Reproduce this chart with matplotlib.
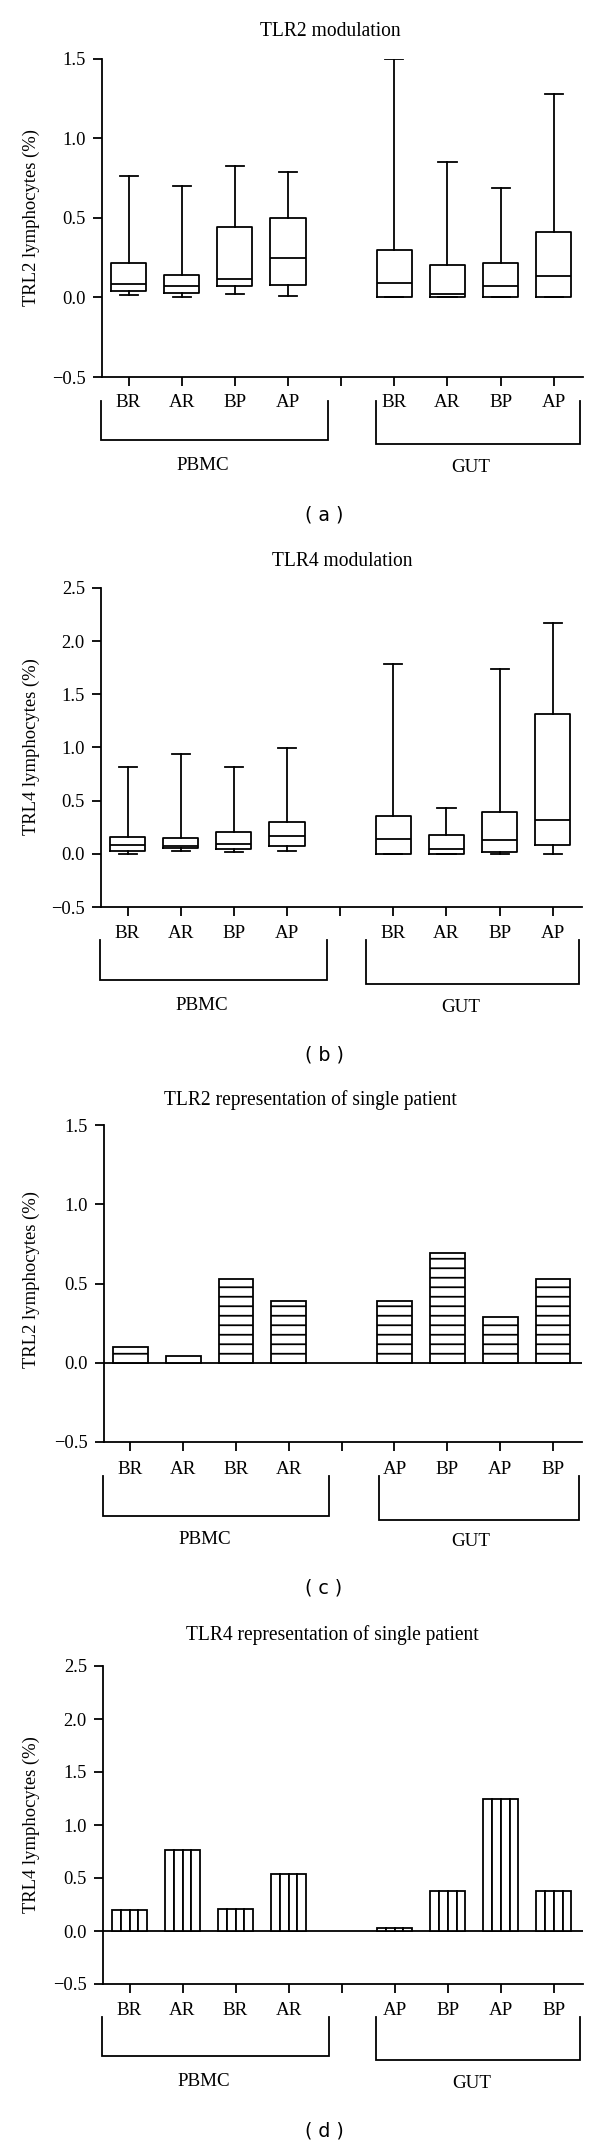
import matplotlib
matplotlib.use("Agg")
import matplotlib.pyplot as plt
from matplotlib.ticker import FuncFormatter, MultipleLocator
from matplotlib.transforms import blended_transform_factory

# ---------------- data ----------------
group_names = ["PBMC", "GUT"]
mod_labels = ["BR", "AR", "BP", "AP", "BR", "AR", "BP", "AP"]

tlr2_whislo = [0.013, 0.000, 0.022, 0.011, 0.000, 0.000, 0.000, 0.000]
tlr2_q1     = [0.043, 0.030, 0.069, 0.076, 0.000, 0.000, 0.000, 0.000]
tlr2_med    = [0.082, 0.069, 0.115, 0.249, 0.093, 0.022, 0.069, 0.136]
tlr2_q3     = [0.216, 0.141, 0.439, 0.500, 0.299, 0.201, 0.216, 0.411]
tlr2_whishi = [0.764, 0.700, 0.827, 0.786, 1.498, 0.851, 0.686, 1.277]

tlr4_whislo = [0.000, 0.023, 0.016, 0.029, 0.000, 0.000, 0.000, 0.000]
tlr4_q1     = [0.026, 0.052, 0.042, 0.071, 0.000, 0.000, 0.019, 0.081]
tlr4_med    = [0.081, 0.075, 0.091, 0.166, 0.140, 0.049, 0.130, 0.321]
tlr4_q3     = [0.162, 0.153, 0.208, 0.302, 0.354, 0.179, 0.393, 1.315]
tlr4_whishi = [0.821, 0.935, 0.812, 0.994, 1.782, 0.435, 1.734, 2.175]

single_labels = ["BR", "AR", "BR", "AR", "AP", "BP", "AP", "BP"]
tlr2_single = [0.102, 0.043, 0.528, 0.387, 0.387, 0.691, 0.289, 0.528]
tlr4_single = [0.197, 0.765, 0.206, 0.539, 0.029, 0.377, 1.248, 0.377]

# ---------------- layout helpers ----------------
DPI = 57
W, H = 600, 2146
PT = 72.0 / DPI  # points per pixel

plt.rcParams["hatch.linewidth"] = 1.8 * PT
plt.rcParams["font.family"] = ["Liberation Serif", "DejaVu Serif"]

fig = plt.figure(figsize=(W / DPI, H / DPI), dpi=DPI)
fig.patch.set_facecolor("white")

LW = 1.8 * PT
FS = 19 * PT
# positions: 4 per group, one empty slot between groups
positions = [i + 1 for i in range(4)] + [i + 6 for i in range(4)]


def rect(left, top, right, bottom):
    return [left / W, 1 - bottom / H, (right - left) / W, (bottom - top) / H]


def fy(px):
    return 1 - px / H


def setup_axes(ax, ymax, xlabels, title, ylabel, tag, geo):
    left, top, right, bottom = geo["box"]
    ax.set_xlim(0.5, 9.55)
    ax.set_ylim(-0.5, ymax)
    for s in ("top", "right"):
        ax.spines[s].set_visible(False)
    for s in ("left", "bottom"):
        ax.spines[s].set_linewidth(LW)
    ax.yaxis.set_major_locator(MultipleLocator(0.5))
    ax.yaxis.set_major_formatter(FuncFormatter(lambda v, p: f"{v:.1f}".replace("-", "\u2212")))
    ax.tick_params(axis="y", direction="out", length=9 * PT, width=LW, pad=7 * PT,
                   labelsize=18.5 * PT)
    ticks = list(range(1, 10))
    lab = xlabels[:4] + [""] + xlabels[4:]
    ax.set_xticks(ticks)
    ax.set_xticklabels(lab)
    ax.tick_params(axis="x", direction="out", length=9 * PT, width=LW, pad=geo["xpad"] * PT,
                   labelsize=FS)
    tr = blended_transform_factory(ax.transData, fig.transFigure)
    # brackets
    bt = bottom + geo["br_top"]
    for (x0, x1, bb) in [(0.48, 4.76, geo["br_b1"]), (geo["gut_x0"], 9.5, geo["br_b2"])]:
        ax.plot([x0, x0, x1, x1], [fy(bt), fy(bottom + bb), fy(bottom + bb), fy(bt)],
                transform=tr, color="black", lw=LW, clip_on=False, solid_joinstyle="miter")
    ax.text(2.4, fy(bottom + geo["lab1"]), group_names[0], transform=tr, ha="center",
            va="center", fontsize=FS)
    ax.text(geo["gut_lab"], fy(bottom + geo["lab2"]), group_names[1], transform=tr,
            ha="center", va="center", fontsize=FS)
    fig.text(geo["title_x"] / W, fy(geo["title_y"]), title, ha="center", va="center",
             fontsize=19.5 * PT)
    fig.text(31.5 / W, fy(geo["ylab_y"]), ylabel, rotation=90, ha="center", va="center",
             fontsize=18.6 * PT)
    fig.text(324 / W, fy(bottom + geo["tag"]), tag, ha="center", va="center",
             fontsize=19 * PT, family=["DejaVu Sans"])


def boxes(ax, lo, q1, med, q3, hi):
    stats = [dict(whislo=a, q1=b, med=c, q3=d, whishi=e, fliers=[])
             for a, b, c, d, e in zip(lo, q1, med, q3, hi)]
    line = dict(color="black", linewidth=LW)
    ax.bxp(stats, positions=positions, widths=0.66, capwidths=0.34, showfliers=False,
           boxprops=line, whiskerprops=line, capprops=line, medianprops=line,
           manage_ticks=False)


geos = {
    "a": dict(box=(102, 58.5, 583, 377), xpad=8, br_top=24, br_b1=63, br_b2=67, gut_x0=5.65,
              lab1=89, lab2=90, gut_lab=7.44, title_x=330, title_y=31, ylab_y=218, tag=138),
    "b": dict(box=(101, 588, 582, 907), xpad=9.5, br_top=33, br_b1=73, br_b2=77, gut_x0=5.48,
              lab1=98.5, lab2=100, gut_lab=7.27, title_x=342, title_y=561, ylab_y=747, tag=148),
    "c": dict(box=(104, 1125, 582, 1442), xpad=9.5, br_top=34, br_b1=74, br_b2=77.5, gut_x0=5.7,
              lab1=98, lab2=100, gut_lab=7.45, title_x=310, title_y=1100.5, ylab_y=1279, tag=146),
    "d": dict(box=(103, 1666, 583, 1984), xpad=9, br_top=32.5, br_b1=72, br_b2=75.5, gut_x0=5.65,
              lab1=97, lab2=99, gut_lab=7.46, title_x=332, title_y=1635.5, ylab_y=1825, tag=147),
}

# (a)
ax = fig.add_axes(rect(*geos["a"]["box"]))
boxes(ax, tlr2_whislo, tlr2_q1, tlr2_med, tlr2_q3, tlr2_whishi)
setup_axes(ax, 1.5, mod_labels, "TLR2 modulation", "TRL2 lymphocytes (%)", "( a )", geos["a"])

# (b)
ax = fig.add_axes(rect(*geos["b"]["box"]))
boxes(ax, tlr4_whislo, tlr4_q1, tlr4_med, tlr4_q3, tlr4_whishi)
setup_axes(ax, 2.5, mod_labels, "TLR4 modulation", "TRL4 lymphocytes (%)", "( b )", geos["b"])

# (c)
ax = fig.add_axes(rect(*geos["c"]["box"]))
ax.axhline(0, color="black", lw=LW, zorder=1)
ax.bar(positions, tlr2_single, width=0.66, color="white", edgecolor="black", linewidth=LW,
       hatch="-", zorder=2)
setup_axes(ax, 1.5, single_labels, "TLR2 representation of single patient",
           "TRL2 lymphocytes (%)", "( c )", geos["c"])

# (d)
ax = fig.add_axes(rect(*geos["d"]["box"]))
ax.axhline(0, color="black", lw=LW, zorder=1)
bw = 0.66
for k in range(4):
    ax.bar([p - bw / 2 + bw / 8 + k * bw / 4 for p in positions], tlr4_single, width=bw / 4,
           color="white", edgecolor="black", linewidth=LW, zorder=2)
setup_axes(ax, 2.5, single_labels, "TLR4 representation of single patient",
           "TRL4 lymphocytes (%)", "( d )", geos["d"])

fig.savefig("out.png", dpi=DPI, facecolor="white")
